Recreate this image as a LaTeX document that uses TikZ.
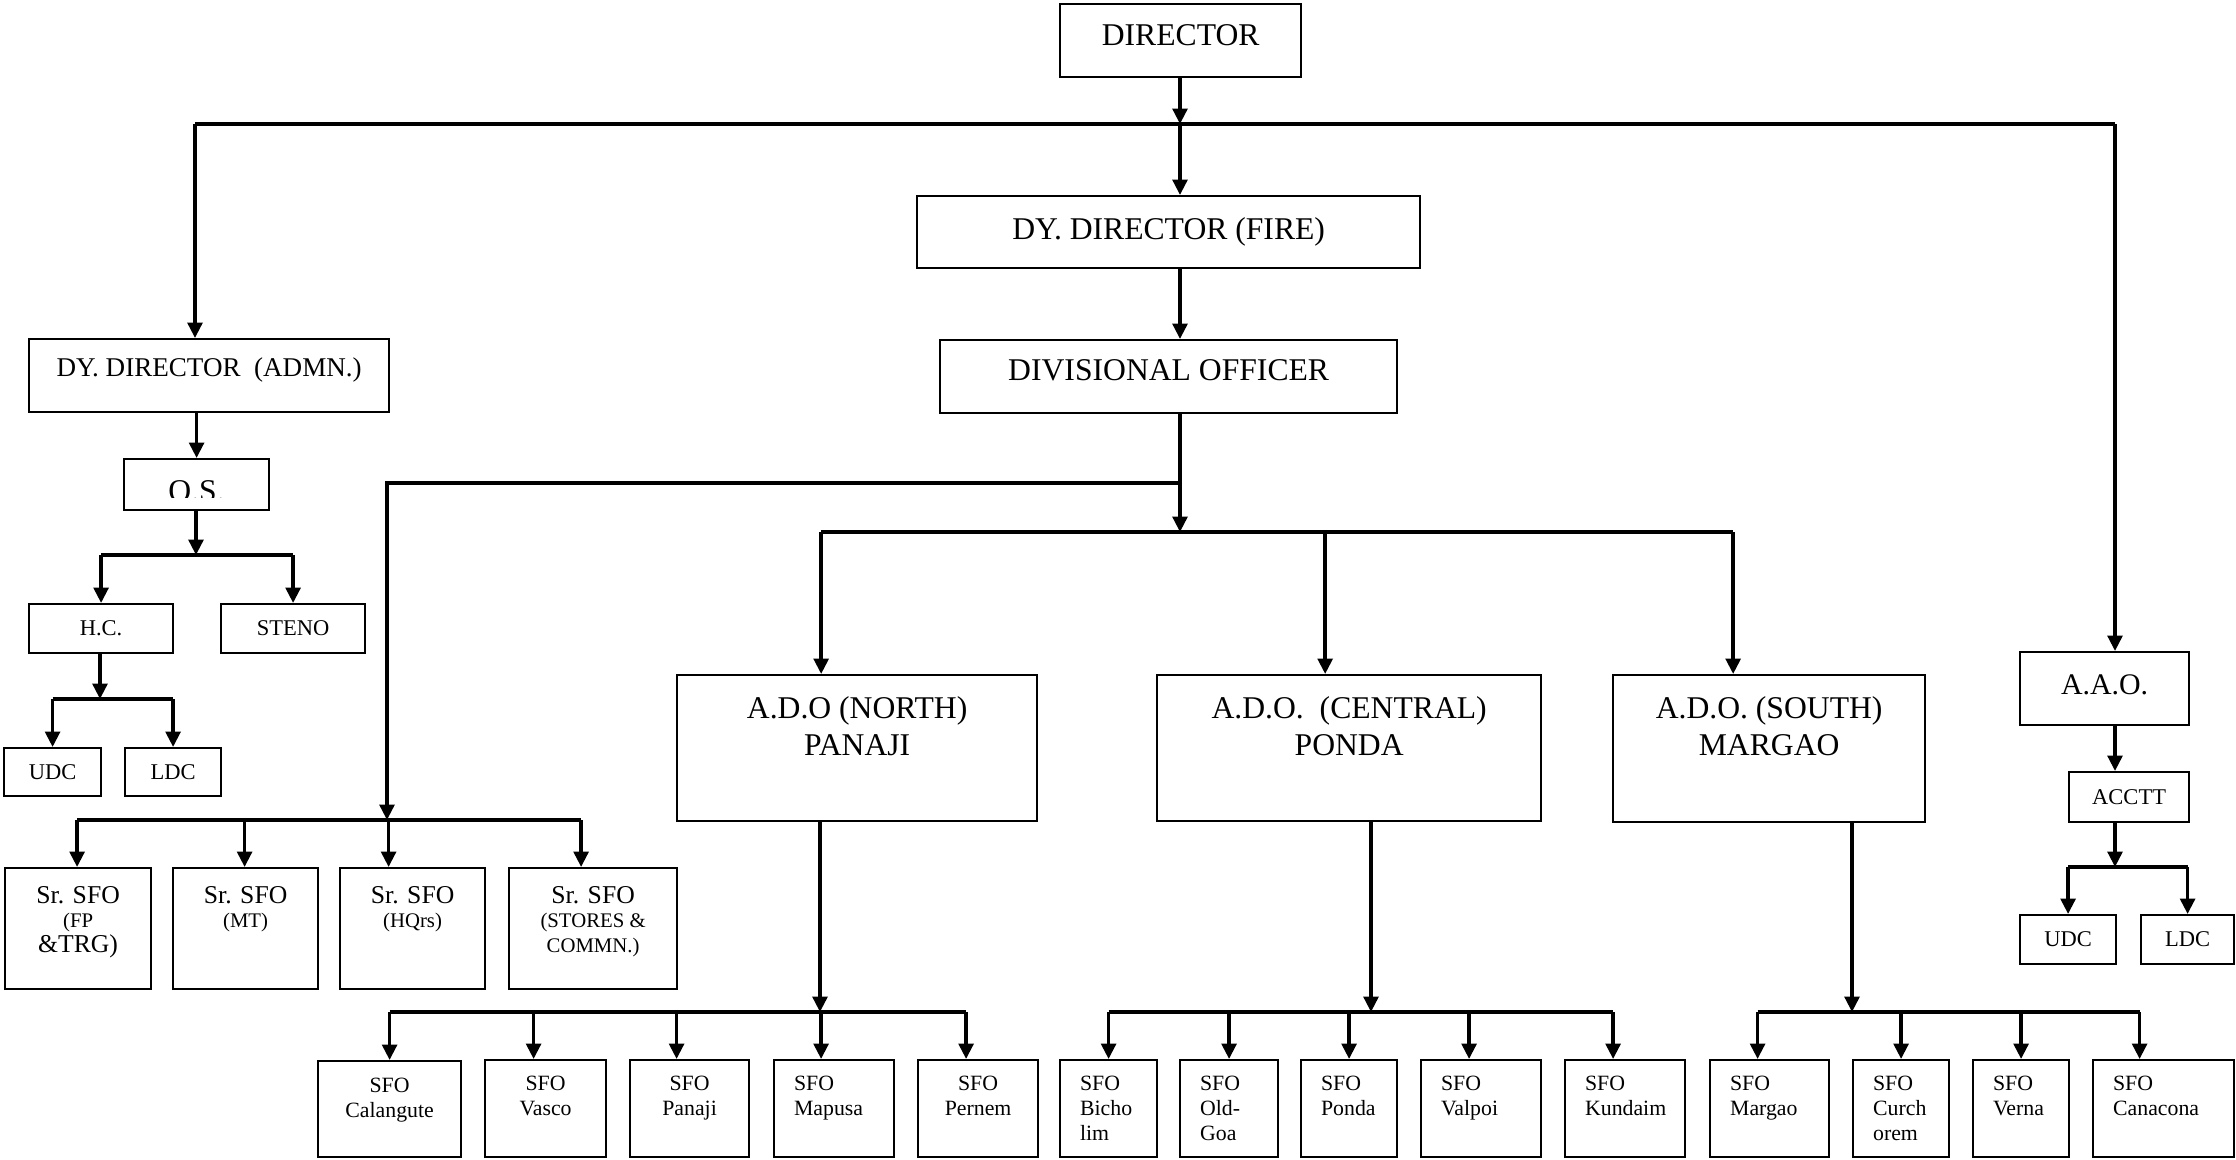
\documentclass[tikz,border=0pt]{standalone}
\usepackage{fontspec}
\setmainfont{Liberation Serif}
\usetikzlibrary{arrows.meta,calc}

\newcommand{\topcell}[4]{\parbox[c][#2cm][t]{#1cm}{\centering\vspace*{#3pt}#4}}
\newcommand{\leftcell}[4]{\parbox[c][#2cm][t]{#1cm}{\raggedright\leftskip=5.7pt\vspace*{#3pt}#4}}
\newcommand{\midcell}[3]{\parbox[c][#2cm][c]{#1cm}{\centering #3}}
\newcommand{\subtxt}{\fontsize{5.9}{7.1}\selectfont}

\tikzset{
  unit/.style={draw, line width=0.6pt, inner sep=0pt, anchor=north west},
  link/.style={line width=1pt},
  tolink/.style={link, -{Triangle[length=4.4pt,width=4.2pt]}},
  headtxt/.style={font=\fontsize{9}{10.5}\selectfont},
  admtxt/.style={font=\fontsize{7.7}{9}\selectfont},
  aaotxt/.style={font=\fontsize{8.5}{10}\selectfont},
  srtxt/.style={font=\fontsize{7.3}{7.1}\selectfont},
  sfotxt/.style={font=\fontsize{6.2}{7.1}\selectfont},
  smalltxt/.style={font=\fontsize{6.4}{7.5}\selectfont}
}

\begin{document}
\begin{tikzpicture}[x=0.01cm,y=-0.01cm]
	\useasboundingbox (0,0) rectangle (2236,1159);

	% top levels
	\node[unit,headtxt] (dir) at (1059,3) {\topcell{2.41}{0.73}{5.7}{DIRECTOR}};
	\node[unit,headtxt] (fire) at (916,195) {\topcell{5.03}{0.72}{6.2}{DY. DIRECTOR (FIRE)}};
	\node[unit,headtxt] (div) at (939,339) {\topcell{4.57}{0.73}{5.4}{DIVISIONAL OFFICER}};

	% administration
	\node[unit,admtxt] (admn) at (28,338) {\topcell{3.60}{0.73}{5.4}{DY. DIRECTOR~~(ADMN.)}};
	\node[unit,headtxt] (os) at (123,458) {\topcell{1.45}{0.51}{6.0}{O.S.}};
	\fill[white] ($(os.south west)+(2,-2)$) rectangle ($(os.south east)+(-2,-13)$);
	\node[unit,smalltxt] (hc) at (28,603) {\midcell{1.44}{0.49}{H.C.}};
	\node[unit,smalltxt] (steno) at (220,603) {\midcell{1.44}{0.49}{STENO}};
	\node[unit,smalltxt] (udcA) at (3,747) {\midcell{0.97}{0.48}{UDC}};
	\node[unit,smalltxt] (ldcA) at (124,747) {\midcell{0.96}{0.48}{LDC}};

	% accounts
	\node[unit,aaotxt] (aao) at (2019,651) {\topcell{1.69}{0.73}{6.5}{A.A.O.}};
	\node[unit,smalltxt] (acctt) at (2068,771) {\midcell{1.20}{0.50}{ACCTT}};
	\node[unit,smalltxt] (udcB) at (2019,914) {\midcell{0.96}{0.49}{UDC}};
	\node[unit,smalltxt] (ldcB) at (2140,914) {\midcell{0.93}{0.49}{LDC}};

	% divisions
	\node[unit,headtxt] (adoN) at (676,674) {\topcell{3.60}{1.46}{6.0}{A.D.O (NORTH)\\PANAJI}};
	\node[unit,headtxt] (adoC) at (1156,674) {\topcell{3.84}{1.46}{6.0}{A.D.O.~~(CENTRAL)\\PONDA}};
	\node[unit,headtxt] (adoS) at (1612,674) {\topcell{3.12}{1.47}{6.0}{A.D.O. (SOUTH)\\MARGAO}};

	% senior station officers
	\node[unit,srtxt] (srA) at (4,867) {\topcell{1.46}{1.21}{5.1}{Sr. SFO\\{\subtxt(FP}\\\&TRG)}};
	\node[unit,srtxt] (srB) at (172,867) {\topcell{1.45}{1.21}{5.1}{Sr. SFO\\{\subtxt(MT)}}};
	\node[unit,srtxt] (srC) at (339,867) {\topcell{1.45}{1.21}{5.1}{Sr. SFO\\{\subtxt(HQrs)}}};
	\node[unit,srtxt] (srD) at (508,867) {\topcell{1.68}{1.21}{5.1}{Sr. SFO\\{\subtxt(STORES \&\\COMMN.)}}};

	% fire stations
	\node[unit,sfotxt] (cal) at (317,1060) {\topcell{1.43}{0.96}{4.8}{SFO\\Calangute}};
	\node[unit,sfotxt] (vas) at (484,1059) {\topcell{1.21}{0.97}{4.6}{SFO\\Vasco}};
	\node[unit,sfotxt] (pjm) at (629,1059) {\topcell{1.19}{0.97}{4.6}{SFO\\Panaji}};
	\node[unit,sfotxt] (map) at (773,1059) {\leftcell{1.20}{0.97}{4.6}{SFO\\Mapusa}};
	\node[unit,sfotxt] (per) at (917,1059) {\topcell{1.20}{0.97}{4.6}{SFO\\Pernem}};
	\node[unit,sfotxt] (bic) at (1059,1059) {\leftcell{0.97}{0.97}{4.6}{SFO\\Bicho\\lim}};
	\node[unit,sfotxt] (old) at (1179,1059) {\leftcell{0.98}{0.97}{4.6}{SFO\\Old-\\Goa}};
	\node[unit,sfotxt] (pon) at (1300,1059) {\leftcell{0.96}{0.97}{4.6}{SFO\\Ponda}};
	\node[unit,sfotxt] (val) at (1420,1059) {\leftcell{1.20}{0.97}{4.6}{SFO\\Valpoi}};
	\node[unit,sfotxt] (kun) at (1564,1059) {\leftcell{1.20}{0.97}{4.6}{SFO\\Kundaim}};
	\node[unit,sfotxt] (mar) at (1709,1059) {\leftcell{1.19}{0.97}{4.6}{SFO\\Margao}};
	\node[unit,sfotxt] (cur) at (1852,1059) {\leftcell{0.96}{0.97}{4.6}{SFO\\Curch\\orem}};
	\node[unit,sfotxt] (ver) at (1972,1059) {\leftcell{0.96}{0.97}{4.6}{SFO\\Verna}};
	\node[unit,sfotxt] (can) at (2092,1059) {\leftcell{1.41}{0.97}{4.6}{SFO\\Canacona}};

	% hubs on the bus lines
	\coordinate (topC) at (1180,124);
	\coordinate (topL) at (195,124);
	\coordinate (topR) at (2115,124);
	\coordinate (brk) at (1180,483);
	\coordinate (srHub) at (387,820);
	\coordinate (adoHub) at (1180,532);
	\coordinate (osHub) at (196,555);
	\coordinate (hcHub) at (100,699);
	\coordinate (acHub) at (2115,867);
	\coordinate (nHub) at (820,1012);
	\coordinate (cHub) at (1371,1012);
	\coordinate (sHub) at (1852,1012);

	% drop points above the boxes
	\foreach \n/\dx in {cal/0,vas/-12,pjm/-13,map/-13,per/-12,
	                    bic/0,old/0,pon/0,val/-12,kun/-12,
	                    mar/-12,cur/0,ver/0,can/-24,
	                    srA/-1,srB/-1,srC/-24,srD/-12,
	                    adoN/-36,adoC/-24,adoS/-36}
		\coordinate (d-\n) at ($(\n.north)+(\dx,0)$);

	\draw[tolink] (dir.south -| topC) -- (topC);
	\draw[link] (topL) -- (topR);
	\draw[tolink] (topL) -- (topL |- admn.north);
	\draw[tolink] (topC) -- (topC |- fire.north);
	\draw[tolink] (topR) -- (topR |- aao.north);
	\draw[tolink] (fire.south -| topC) -- (topC |- div.north);
	\draw[tolink] (div.south -| adoHub) -- (adoHub);
	\draw[tolink] (brk) -| (srHub);

	\draw[link] (d-adoN |- adoHub) -- (d-adoS |- adoHub);
	\foreach \n in {adoN,adoC,adoS}
		\draw[tolink] (d-\n |- adoHub) -- (d-\n);

	\draw[link] (d-srA |- srHub) -- (d-srD |- srHub);
	\foreach \n in {srA,srB,srC,srD}
		\draw[tolink] (d-\n |- srHub) -- (d-\n);

	\draw[tolink] (admn.south -| os.north) -- (os.north);
	\draw[tolink] (os.south -| osHub) -- (osHub);
	\draw[link] (hc.north |- osHub) -- (steno.north |- osHub);
	\foreach \n in {hc,steno}
		\draw[tolink] (\n.north |- osHub) -- (\n.north);
	\draw[tolink] (hc.south -| hcHub) -- (hcHub);
	\draw[link] (udcA.north |- hcHub) -- (ldcA.north |- hcHub);
	\foreach \n in {udcA,ldcA}
		\draw[tolink] (\n.north |- hcHub) -- (\n.north);

	\draw[tolink] (aao.south -| topR) -- (topR |- acctt.north);
	\draw[tolink] (acctt.south -| acHub) -- (acHub);
	\draw[link] (udcB.north |- acHub) -- (ldcB.north |- acHub);
	\foreach \n in {udcB,ldcB}
		\draw[tolink] (\n.north |- acHub) -- (\n.north);

	\draw[tolink] (adoN.south -| nHub) -- (nHub);
	\draw[link] (d-cal |- nHub) -- (d-per |- nHub);
	\foreach \n in {cal,vas,pjm,map,per}
		\draw[tolink] (d-\n |- nHub) -- (d-\n);

	\draw[tolink] (adoC.south -| cHub) -- (cHub);
	\draw[link] (d-bic |- cHub) -- (d-kun |- cHub);
	\foreach \n in {bic,old,pon,val,kun}
		\draw[tolink] (d-\n |- cHub) -- (d-\n);

	\draw[tolink] (adoS.south -| sHub) -- (sHub);
	\draw[link] (d-mar |- sHub) -- (d-can |- sHub);
	\foreach \n in {mar,cur,ver,can}
		\draw[tolink] (d-\n |- sHub) -- (d-\n);
\end{tikzpicture}
\end{document}
